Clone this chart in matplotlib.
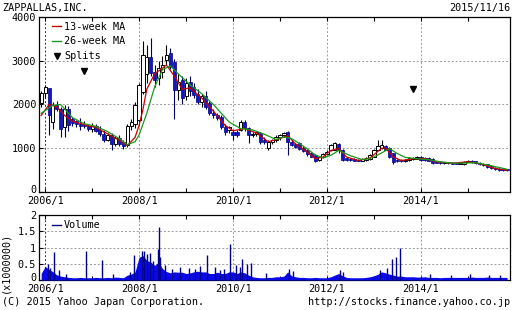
import matplotlib
matplotlib.use("Agg")
import matplotlib.pyplot as plt
import matplotlib.dates as mdates
import matplotlib.transforms as mtransforms
from matplotlib.lines import Line2D
import pandas as pd
import numpy as np

plt.rcParams['font.family'] = ['DejaVu Sans Mono']
plt.rcParams['font.size'] = 7.3

# monthly candles, 2005/12 .. 2015/11 (yen)
months = pd.date_range('2005-12-01', periods=120, freq='MS')
opens = [2030,
    2260, 2370, 1600, 2000, 1900, 1480, 1900, 1680, 1620, 1560, 1540, 1500,
    1440, 1520, 1410, 1330, 1200, 1300, 1100, 1240, 1150, 1080, 1520, 1560,
    1650, 2290, 2700, 3090, 2750, 2600, 2750, 3020, 3180, 2970, 2330, 2560,
    2200, 2520, 2400, 2250, 2050, 2200, 2030, 1800, 1760, 1720, 1490, 1420,
    1380, 1380, 1420, 1610, 1460, 1300, 1330, 1350, 1200, 1010, 1140, 1200,
    1250, 1300, 1380, 1140, 1100, 1120, 1000, 950, 890, 850, 730, 800,
    870, 960, 970, 1100, 960, 780, 760, 760, 740, 720, 740, 750,
    810, 960, 1000, 1050, 1000, 890, 720, 730, 700, 740, 750, 760,
    800, 780, 780, 760, 690, 680, 665, 680, 665, 650, 640, 630,
    690, 720, 700, 660, 640, 640, 590, 560, 530, 520, 510]
highs = [2300,
    2450, 2380, 2050, 2080, 1950, 1980, 1960, 1720, 1650, 1700, 1620, 1560,
    1580, 1560, 1500, 1420, 1360, 1340, 1280, 1300, 1200, 1560, 1680, 2050,
    2500, 3440, 3350, 3520, 2900, 3000, 3100, 3360, 3300, 3050, 2700, 2650,
    2600, 2650, 2500, 2350, 2250, 2300, 2080, 1900, 1800, 1760, 1550, 1520,
    1420, 1420, 1650, 1640, 1480, 1380, 1400, 1380, 1250, 1180, 1220, 1300,
    1320, 1370, 1400, 1200, 1120, 1140, 1050, 980, 920, 880, 820, 900,
    950, 1100, 1150, 1120, 980, 800, 780, 780, 760, 770, 800, 880,
    980, 1190, 1200, 1080, 1020, 900, 760, 750, 760, 790, 800, 830,
    820, 790, 790, 770, 700, 700, 690, 690, 680, 670, 680, 700,
    730, 730, 710, 680, 660, 650, 610, 570, 550, 540, 530]
lows = [1950,
    2150, 1300, 1450, 1850, 1260, 1250, 1400, 1520, 1490, 1420, 1460, 1400,
    1380, 1370, 1280, 1150, 1160, 950, 1060, 1050, 980, 1020, 1420, 1460,
    1600, 2250, 2500, 2650, 2400, 2450, 2600, 2900, 2800, 1680, 2100, 2000,
    2100, 2200, 2150, 2000, 1950, 1900, 1750, 1700, 1650, 1450, 1300, 1350,
    1200, 1250, 1400, 1400, 1120, 1250, 1280, 1100, 1100, 950, 1100, 1150,
    1200, 1250, 850, 1050, 1000, 950, 920, 830, 800, 680, 700, 780,
    850, 930, 950, 900, 720, 720, 720, 700, 700, 700, 720, 730,
    800, 950, 980, 950, 780, 650, 680, 690, 690, 720, 740, 750,
    720, 720, 700, 650, 660, 650, 650, 650, 640, 630, 630, 620,
    680, 670, 650, 620, 600, 560, 520, 500, 490, 490, 480]
closes = [2260,
    2400, 1760, 1980, 1900, 1450, 1900, 1540, 1580, 1560, 1520, 1500, 1430,
    1520, 1400, 1330, 1200, 1300, 1100, 1240, 1100, 1050, 1520, 1600, 1990,
    2440, 3130, 3080, 2720, 2560, 2830, 2900, 3130, 2860, 2330, 2510, 2150,
    2500, 2300, 2220, 2050, 2200, 1950, 1800, 1750, 1700, 1480, 1380, 1490,
    1300, 1300, 1610, 1460, 1300, 1330, 1380, 1140, 1140, 1140, 1200, 1250,
    1300, 1340, 1140, 1070, 1030, 980, 940, 870, 810, 700, 800, 880,
    920, 1070, 1120, 950, 730, 740, 730, 720, 720, 760, 780, 850,
    960, 1050, 1070, 960, 800, 690, 700, 700, 740, 770, 780, 800,
    740, 730, 720, 670, 670, 665, 680, 660, 650, 640, 660, 690,
    720, 680, 660, 630, 610, 580, 540, 520, 510, 500, 500]

# moving averages
ma13_dates = ['2005-12', '2006-02', '2006-04', '2006-06', '2006-08', '2006-11',
    '2007-02', '2007-05', '2007-08', '2007-10', '2007-12', '2008-01', '2008-02',
    '2008-03', '2008-05', '2008-08', '2008-10', '2008-12', '2009-02', '2009-05',
    '2009-08', '2009-11', '2010-01', '2010-04', '2010-07', '2010-10', '2011-01',
    '2011-03', '2011-05', '2011-08', '2011-10', '2011-12', '2012-02', '2012-04',
    '2012-06', '2012-09', '2012-12', '2013-03', '2013-04', '2013-06', '2013-08',
    '2013-11', '2014-02', '2014-05', '2014-09', '2015-01', '2015-04', '2015-08',
    '2015-11']
ma13 = [1750, 2000, 1950, 1750, 1620, 1540, 1470, 1330, 1180, 1060, 1250, 1520,
    1900, 2350, 2700, 2900, 2650, 2350, 2380, 2150, 1850, 1520, 1400, 1450, 1350,
    1150, 1220, 1290, 1100, 920, 760, 800, 950, 1000, 800, 720, 780, 1000, 1000,
    800, 720, 760, 760, 690, 660, 690, 650, 540, 500]
ma26_dates = ['2005-12', '2006-03', '2006-05', '2006-08', '2006-11', '2007-02',
    '2007-05', '2007-08', '2007-10', '2007-12', '2008-01', '2008-03', '2008-05',
    '2008-07', '2008-09', '2008-11', '2009-02', '2009-05', '2009-08', '2009-10',
    '2009-12', '2010-03', '2010-06', '2010-09', '2010-12', '2011-02', '2011-04',
    '2011-07', '2011-10', '2011-12', '2012-02', '2012-04', '2012-07', '2012-10',
    '2012-12', '2013-02', '2013-05', '2013-07', '2013-09', '2013-12', '2014-03',
    '2014-06', '2014-09', '2014-12', '2015-03', '2015-06', '2015-09', '2015-11']
ma26 = [1800, 1980, 2000, 1700, 1560, 1500, 1380, 1220, 1080, 1150, 1300, 1800,
    2400, 2800, 2880, 2700, 2450, 2250, 2000, 1800, 1600, 1450, 1420, 1320, 1200,
    1260, 1220, 1050, 850, 780, 840, 950, 830, 740, 760, 850, 990, 880, 790, 760,
    740, 690, 660, 660, 670, 620, 560, 520]

split_dates = ['2006-11-01', '2013-11-01']
split_marks = [2770, 2350]

# volume (x1000000): monthly base level + single-day spikes
vol_base = [0.2,
    0.42, 0.32, 0.26, 0.16, 0.12, 0.1, 0.08, 0.07, 0.07, 0.08, 0.07, 0.07,
    0.07, 0.08, 0.07, 0.07, 0.08, 0.07, 0.09, 0.08, 0.07, 0.15, 0.18, 0.25,
    0.7, 0.75, 0.6, 0.55, 0.45, 0.55, 0.35, 0.26, 0.22, 0.25, 0.24, 0.24,
    0.2, 0.22, 0.25, 0.27, 0.25, 0.25, 0.2, 0.2, 0.24, 0.2, 0.2, 0.25,
    0.25, 0.2, 0.25, 0.22, 0.15, 0.1, 0.08, 0.07, 0.07, 0.08, 0.08, 0.1,
    0.1, 0.12, 0.25, 0.13, 0.1, 0.08, 0.08, 0.07, 0.07, 0.08, 0.07, 0.07,
    0.07, 0.1, 0.15, 0.2, 0.13, 0.08, 0.07, 0.07, 0.07, 0.07, 0.08, 0.1,
    0.13, 0.18, 0.25, 0.22, 0.18, 0.15, 0.12, 0.12, 0.1, 0.1, 0.1, 0.09,
    0.09, 0.1, 0.08, 0.08, 0.08, 0.07, 0.08, 0.08, 0.08, 0.08, 0.08, 0.08,
    0.08, 0.09, 0.08, 0.08, 0.08, 0.09, 0.08, 0.08, 0.08, 0.08, 0.08]
spike_dates = ['2006-01-20', '2006-02-10', '2006-03-10', '2006-04-20', '2006-06-15',
    '2006-11-15', '2007-03-20', '2007-06-10', '2007-10-20', '2007-11-25',
    '2007-12-15', '2008-01-20', '2008-02-10', '2008-03-05', '2008-03-25',
    '2008-04-20', '2008-05-25', '2008-06-05', '2008-06-15', '2008-07-20',
    '2008-09-10', '2008-11-15', '2009-01-20', '2009-03-10', '2009-04-15',
    '2009-06-10', '2009-08-15', '2009-09-20', '2009-10-20', '2009-12-10',
    '2010-01-20', '2010-02-20', '2010-03-15', '2010-04-20', '2010-05-20',
    '2010-09-15', '2011-03-15', '2011-04-10', '2012-04-10', '2012-05-05',
    '2013-02-15', '2013-04-10', '2013-05-20', '2013-06-20', '2013-07-25',
    '2014-03-10', '2014-08-20', '2015-01-15', '2015-06-10', '2015-09-10']
spike_vals = [0.48, 0.38, 0.86, 0.3, 0.2, 0.9, 0.63, 0.2, 0.25, 0.78, 0.3, 0.9,
    0.88, 0.8, 0.82, 0.6, 0.96, 1.63, 0.72, 0.45, 0.35, 0.4, 0.38, 0.35, 0.42,
    0.78, 0.4, 0.32, 0.35, 1.12, 0.45, 0.4, 0.65, 0.5, 0.52, 0.22, 0.35, 0.28,
    0.3, 0.25, 0.3, 0.38, 0.65, 0.7, 1.0, 0.18, 0.16, 0.18, 0.15, 0.16]

# %% figure
fig = plt.figure(figsize=(5.12, 3.10), dpi=100)
ax = fig.add_axes([39/512, 1-192/310, 471/512, 175/310])
axv = fig.add_axes([39/512, 1-280/310, 471/512, 65/310])

x = mdates.date2num(months)
o = np.array(opens); h = np.array(highs); l = np.array(lows); c = np.array(closes)
up = c >= o
blue = '#1414c8'

ax.vlines(x[up], l[up], h[up], color='black', lw=0.8, zorder=3)
ax.vlines(x[~up], l[~up], h[~up], color='#000060', lw=0.8, zorder=3)
body = np.maximum(np.abs(c - o), 22)
ax.bar(x[up], body[up], bottom=np.minimum(o, c)[up], width=25,
       facecolor='white', edgecolor='black', lw=0.7, zorder=4)
ax.bar(x[~up], body[~up], bottom=np.minimum(o, c)[~up], width=25,
       facecolor=blue, edgecolor='#000080', lw=0.5, zorder=4)

ax.plot(pd.to_datetime(ma13_dates), ma13, color='#c80000', lw=0.9, zorder=5)
ax.plot(pd.to_datetime(ma26_dates), ma26, color='#1a9a1a', lw=0.9, zorder=5)
ax.plot(pd.to_datetime(split_dates), split_marks, 'v', color='black', ms=5, zorder=6)

# volume
axv.fill_between(x, 0, vol_base, color='#0a0ae8', lw=0, zorder=3)
axv.vlines(pd.to_datetime(spike_dates), 0, spike_vals, color='#000090', lw=1.0, zorder=4)

# %% axes styling
xmin = mdates.date2num(pd.Timestamp('2005-11-14'))
xmax = mdates.date2num(pd.Timestamp('2015-11-24'))
major = pd.to_datetime(['2006-01-01', '2008-01-01', '2010-01-01', '2012-01-01', '2014-01-01'])
minor = pd.to_datetime(['2007-01-01', '2009-01-01', '2011-01-01', '2013-01-01', '2015-01-01'])
labels = ['2006/1', '2008/1', '2010/1', '2012/1', '2014/1']

for a in (ax, axv):
    a.set_xlim(xmin, xmax)
    a.set_xticks(mdates.date2num(major))
    a.set_xticklabels(labels)
    a.set_xticks(mdates.date2num(minor), minor=True)
    a.tick_params(which='both', direction='in', length=3, width=0.8,
                  top=True, pad=3, labelsize=7.3)
    a.tick_params(axis='y', which='both', length=3, pad=2)
    for s in a.spines.values():
        s.set_color('black'); s.set_linewidth(0.9)
    for i, d in enumerate(major):
        a.axvline(mdates.date2num(d), color='#303030' if i == 0 else '#9a9a9a',
                  ls=(0, (2, 2)), lw=0.7, zorder=1)

ax.set_ylim(0, 4000)
ax.set_yticks([0, 1000, 2000, 3000, 4000])
for v in [1000, 2000, 3000]:
    ax.axhline(v, color='#9a9a9a', ls=(0, (2, 2)), lw=0.7, zorder=1)

axv.set_ylim(0, 2)
axv.set_yticks([0, 0.5, 1, 1.5, 2])
axv.set_yticklabels(['0', '0.5', '1', '1.5', '2'])
for v in [0.5, 1, 1.5]:
    axv.axhline(v, color='#9a9a9a', ls=(0, (2, 2)), lw=0.7, zorder=1)

# lift the "0" labels a little so they sit above the date labels
lift = mtransforms.ScaledTranslation(0, 3/100, fig.dpi_scale_trans)
for a in (ax, axv):
    lab = a.get_yticklabels()[0]
    lab.set_transform(lab.get_transform() + lift)

handles = [Line2D([], [], color='#c80000', lw=1),
           Line2D([], [], color='#1a9a1a', lw=1),
           Line2D([], [], color='black', marker='v', ls='none', ms=5)]
ax.legend(handles, ['13-week MA', '26-week MA', 'Splits'], loc='upper left',
          bbox_to_anchor=(0.02, 0.995), frameon=False, handlelength=0.8,
          handletextpad=0.35, labelspacing=0.45, borderaxespad=0, fontsize=7.3)
axv.legend([Line2D([], [], color='#000080', lw=1)], ['Volume'], loc='upper left',
           bbox_to_anchor=(0.02, 0.98), frameon=False, handlelength=0.8,
           handletextpad=0.35, borderaxespad=0, fontsize=7.3)

fig.text(2/512, 1-8/310, 'ZAPPALLAS,INC.', ha='left', va='center')
fig.text(510/512, 1-8/310, '2015/11/16', ha='right', va='center')
fig.text(5/512, 1-262/310, '(x1000000)', rotation=90, ha='center', va='center')
fig.text(2/512, 1-302/310, '(C) 2015 Yahoo Japan Corporation.', ha='left', va='center')
fig.text(510/512, 1-302/310, 'http://stocks.finance.yahoo.co.jp', ha='right', va='center')

fig.savefig('out.png', dpi=100)
